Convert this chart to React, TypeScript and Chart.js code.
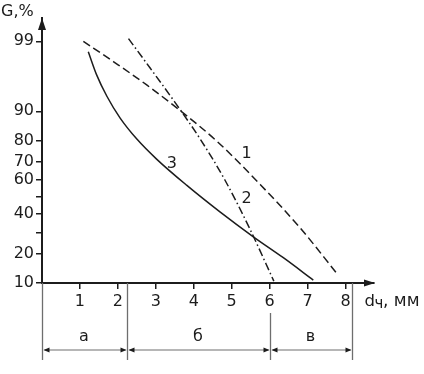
import { useEffect, useRef } from 'react';
import { Chart, registerables } from 'chart.js';

Chart.register(...registerables);

// ---- data ----
const curve1X = [1.09, 1.88, 2.76, 3.64, 4.63, 5.75, 6.8, 7.76];
const curve1G = [99.0, 97.85, 95.3, 90.2, 79.5, 57.5, 32.4, 12.9];
const curve2X = [2.28, 2.85, 3.5, 4.17, 4.82, 5.48, 6.11];
const curve2G = [99.1, 97.3, 92.2, 80.7, 60.1, 31.7, 10.5];
const curve3X = [1.22, 1.44, 1.71, 2.06, 2.5, 3.02, 3.81, 4.69, 5.57, 6.36, 7.15];
const curve3G = [98.5, 96.6, 93.4, 88.1, 80.7, 71.5, 57.1, 41.3, 27.7, 18.3, 10.8];

const curveNames = ['1', '2', '3'];
const curveLabelX = [5.39, 5.39, 3.42];
const curveLabelG = [74.3, 48.7, 68.8];

const xTicks = [1, 2, 3, 4, 5, 6, 7, 8];
const yTicks = [10, 20, 30, 40, 50, 60, 70, 80, 90, 99];
const yTickLabels = ['10', '20', '', '40', '', '60', '70', '80', '90', '99'];

const zoneBounds = [0, 2.24, 6.0, 8.18];
const zoneLabels = ['а', 'б', 'в'];

const yTitle = 'G,%';
const xTitleMain = 'd';
const xTitleSub = 'ч';
const xTitleRest = ', мм';

// ---- probability (normal quantile) transform ----
function probit(p: number): number {
  const a = [-3.969683028665376e1, 2.209460984245205e2, -2.759285104469687e2, 1.38357751867269e2, -3.066479806614716e1, 2.506628277459239];
  const b = [-5.447609879822406e1, 1.615858368580409e2, -1.556989798598866e2, 6.680131188771972e1, -1.328068155288572e1];
  const c = [-7.784894002430293e-3, -3.223964580411365e-1, -2.400758277161838, -2.549671200318741, 4.374664141464968, 2.938163982698783];
  const d = [7.784695709041462e-3, 3.224671290700398e-1, 2.445134137142996, 3.754408661907416];
  const pl = 0.02425;
  if (p < pl) {
    const q = Math.sqrt(-2 * Math.log(p));
    return (((((c[0] * q + c[1]) * q + c[2]) * q + c[3]) * q + c[4]) * q + c[5]) / ((((d[0] * q + d[1]) * q + d[2]) * q + d[3]) * q + 1);
  }
  if (p <= 1 - pl) {
    const q = p - 0.5;
    const r = q * q;
    return ((((((a[0] * r + a[1]) * r + a[2]) * r + a[3]) * r + a[4]) * r + a[5]) * q) / (((((b[0] * r + b[1]) * r + b[2]) * r + b[3]) * r + b[4]) * r + 1);
  }
  const q = Math.sqrt(-2 * Math.log(1 - p));
  return -(((((c[0] * q + c[1]) * q + c[2]) * q + c[3]) * q + c[4]) * q + c[5]) / ((((d[0] * q + d[1]) * q + d[2]) * q + d[3]) * q + 1);
}

const toPoints = (xs: number[], gs: number[]) => xs.map((x, i) => ({ x, y: probit(gs[i] / 100) }));

const INK = '#1c1c1c';
const GREY = '#6e6e6e';
const FONT = '"DejaVu Sans", "Liberation Sans", Arial, sans-serif';

const annotPlugin = {
  id: 'annot',
  afterDraw(chart: any) {
    const { ctx, chartArea: ca } = chart;
    const xs = chart.scales.x;
    const ys = chart.scales.y;
    ctx.save();
    ctx.fillStyle = INK;
    // axis arrowheads
    ctx.beginPath();
    ctx.moveTo(ca.right + 1, ca.bottom);
    ctx.lineTo(ca.right - 10, ca.bottom - 3.5);
    ctx.lineTo(ca.right - 10, ca.bottom + 3.5);
    ctx.closePath();
    ctx.fill();
    ctx.beginPath();
    ctx.moveTo(ca.left, ca.top);
    ctx.lineTo(ca.left - 4, ca.top + 12);
    ctx.lineTo(ca.left + 4, ca.top + 12);
    ctx.closePath();
    ctx.fill();

    // titles
    ctx.textAlign = 'left';
    ctx.textBaseline = 'alphabetic';
    ctx.font = `16px ${FONT}`;
    ctx.fillText(yTitle, 1, 16);
    ctx.font = `16.5px ${FONT}`;
    ctx.fillText(xTitleMain, 364.5, 305.5);
    ctx.font = `15px ${FONT}`;
    ctx.fillText(xTitleSub, 374.5, 307.5);
    ctx.font = `17px ${FONT}`;
    ctx.fillText(xTitleRest, 383, 305.5);

    // curve numbers
    ctx.textAlign = 'center';
    ctx.textBaseline = 'middle';
    ctx.font = `16px ${FONT}`;
    curveNames.forEach((n, i) => {
      ctx.fillText(n, xs.getPixelForValue(curveLabelX[i]), ys.getPixelForValue(probit(curveLabelG[i] / 100)));
    });

    // zone partition below the axis
    const lineBottom = ca.bottom + 77;
    const arrowY = ca.bottom + 67;
    ctx.strokeStyle = GREY;
    ctx.lineWidth = 1.3;
    zoneBounds.forEach((b) => {
      const px = Math.round(xs.getPixelForValue(b)) + 0.5;
      const nearTick = b > 0 && xTicks.some((t) => Math.abs(t - b) < 0.15);
      const start = nearTick ? ca.bottom + 30 : ca.bottom;
      ctx.beginPath();
      ctx.moveTo(px, start);
      ctx.lineTo(px, lineBottom);
      ctx.stroke();
    });
    for (let i = 0; i < zoneLabels.length; i++) {
      const x0 = Math.round(xs.getPixelForValue(zoneBounds[i])) + 0.5;
      const x1 = Math.round(xs.getPixelForValue(zoneBounds[i + 1])) + 0.5;
      ctx.strokeStyle = GREY;
      ctx.lineWidth = 1.2;
      ctx.beginPath();
      ctx.moveTo(x0 + 2, arrowY);
      ctx.lineTo(x1 - 2, arrowY);
      ctx.stroke();
      ctx.fillStyle = INK;
      ctx.beginPath();
      ctx.moveTo(x0 + 1, arrowY);
      ctx.lineTo(x0 + 7, arrowY - 2.5);
      ctx.lineTo(x0 + 7, arrowY + 2.5);
      ctx.closePath();
      ctx.fill();
      ctx.beginPath();
      ctx.moveTo(x1 - 1, arrowY);
      ctx.lineTo(x1 - 7, arrowY - 2.5);
      ctx.lineTo(x1 - 7, arrowY + 2.5);
      ctx.closePath();
      ctx.fill();
      ctx.font = `16px ${FONT}`;
      ctx.textAlign = 'center';
      ctx.textBaseline = 'middle';
      ctx.fillText(zoneLabels[i], (x0 + x1) / 2 - 1, ca.bottom + 54);
    }
    ctx.restore();
  },
};

export default function App() {
  const ref = useRef<HTMLCanvasElement | null>(null);
  useEffect(() => {
    if (!ref.current) return;
    const lineBase = { showLine: true, pointRadius: 0, borderColor: INK, borderWidth: 1.5, fill: false, cubicInterpolationMode: 'monotone' as const };
    const chart = new Chart(ref.current, {
      type: 'scatter',
      data: {
        datasets: [
          { ...lineBase, label: curveNames[0], data: toPoints(curve1X, curve1G), borderDash: [8, 4] },
          { ...lineBase, label: curveNames[1], data: toPoints(curve2X, curve2G), borderDash: [8, 3, 1.5, 3] },
          { ...lineBase, label: curveNames[2], data: toPoints(curve3X, curve3G) },
        ],
      },
      options: {
        animation: false,
        responsive: false,
        events: [],
        layout: { padding: { left: 0, top: 18, right: 50, bottom: 0 } },
        plugins: { legend: { display: false }, tooltip: { enabled: false } },
        scales: {
          x: {
            type: 'linear',
            min: 0,
            max: 8.75,
            afterBuildTicks: (s: any) => {
              s.ticks = xTicks.map((v) => ({ value: v }));
            },
            afterFit: (s: any) => {
              s.height = 91;
            },
            grid: { display: true, drawOnChartArea: false, drawTicks: true, tickLength: 6, color: INK, lineWidth: 1.5 },
            border: { display: true, color: INK, width: 2 },
            ticks: { color: INK, font: { family: FONT, size: 16 }, padding: 3, maxRotation: 0, autoSkip: false, callback: (v: any) => String(v) },
          },
          y: {
            type: 'linear',
            min: probit(0.1),
            max: 2.674,
            afterBuildTicks: (s: any) => {
              s.ticks = yTicks.map((v) => ({ value: probit(v / 100) }));
            },
            afterFit: (s: any) => {
              s.width = 42;
            },
            grid: { display: true, drawOnChartArea: false, drawTicks: true, tickLength: 6, color: INK, lineWidth: 1.5 },
            border: { display: true, color: INK, width: 2 },
            ticks: { color: INK, font: { family: FONT, size: 16 }, padding: 2, autoSkip: false, callback: (_v: any, i: number) => yTickLabels[i] },
          },
        },
      },
      plugins: [annotPlugin],
    });
    return () => chart.destroy();
  }, []);
  return (
    <div style={{ position: 'fixed', left: 0, top: 0, width: 424, height: 374, background: '#fff' }}>
      <canvas ref={ref} width={424} height={374} />
    </div>
  );
}
